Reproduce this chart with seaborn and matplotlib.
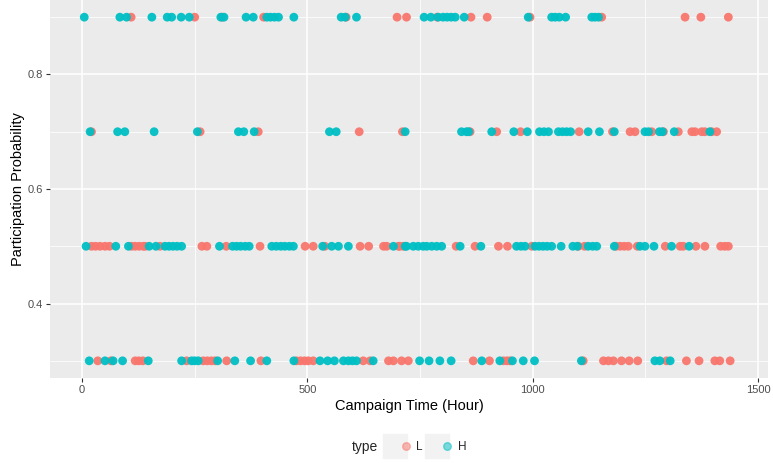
import matplotlib
matplotlib.use("Agg")
import matplotlib.pyplot as plt
import seaborn as sns
import pandas as pd
from matplotlib.lines import Line2D
from matplotlib.legend_handler import HandlerTuple

# campaign hours at which users joined, per participation probability level
l_09 = [109, 250, 311, 403, 586, 699, 720, 788, 863, 899, 994, 1153, 1338, 1373, 1434]
h_09 = [5, 84, 99, 155, 189, 199, 220, 238, 308, 315, 364, 380, 410, 418, 427, 436,
        470, 575, 584, 609, 759, 774, 790, 801, 810, 819, 828, 848, 990, 1042, 1050,
        1059, 1073, 1131, 1138, 1146]

l_07 = [21, 262, 391, 615, 711, 861, 920, 973, 1103, 1177, 1216, 1227, 1264, 1290,
        1323, 1353, 1360, 1375, 1382, 1397, 1408]
h_07 = [18, 79, 95, 160, 256, 347, 359, 382, 549, 564, 717, 842, 853, 858, 909, 958,
        988, 1015, 1025, 1035, 1057, 1066, 1075, 1084, 1123, 1148, 1181, 1249, 1257,
        1281, 1288, 1314, 1393]

l_05 = [21, 30, 40, 51, 61, 110, 118, 127, 136, 140, 173, 266, 277, 320, 395, 495,
        513, 539, 617, 636, 669, 676, 702, 705, 713, 830, 872, 924, 944, 998, 1101,
        1115, 1185, 1194, 1203, 1212, 1232, 1294, 1327, 1334, 1362, 1382, 1417, 1426,
        1434]
h_05 = [9, 75, 103, 149, 164, 184, 193, 202, 211, 221, 305, 334, 343, 352, 362, 371,
        421, 431, 441, 450, 460, 469, 534, 554, 569, 591, 691, 717, 720, 735, 746, 757,
        765, 776, 787, 798, 839, 885, 964, 974, 983, 1005, 1014, 1023, 1032, 1042,
        1063, 1089, 1099, 1123, 1133, 1142, 1181, 1238, 1249, 1269, 1308, 1347]

l_03 = [35, 64, 118, 126, 135, 232, 269, 278, 287, 295, 321, 397, 476, 485, 494, 502,
        513, 624, 639, 680, 691, 709, 724, 868, 904, 935, 943, 950, 1112, 1157, 1168,
        1179, 1197, 1214, 1233, 1297, 1341, 1369, 1404, 1415, 1438]
h_03 = [16, 51, 69, 90, 147, 221, 243, 250, 258, 301, 339, 374, 410, 470, 528, 545,
        560, 580, 591, 600, 609, 646, 749, 770, 794, 819, 887, 927, 955, 979, 1004,
        1108, 1271, 1282, 1305]

levels = [0.9, 0.7, 0.5, 0.3]
l_rows = [l_09, l_07, l_05, l_03]
h_rows = [h_09, h_07, h_05, h_03]

records = []
for p, hours in zip(levels, l_rows):
    records += [(t, p, 'L') for t in hours]
for p, hours in zip(levels, h_rows):
    records += [(t, p, 'H') for t in hours]
df = pd.DataFrame(records, columns=['hour', 'prob', 'type'])

palette = {'L': '#F8766D', 'H': '#00BFC4'}

sns.set_theme(style="darkgrid")
plt.rcParams['font.family'] = ['Liberation Sans', 'DejaVu Sans']

fig = plt.figure(figsize=(7.73, 4.63), dpi=100)
ax = fig.add_axes([50 / 773, 85 / 463, 718 / 773, 378 / 463])
ax.set_facecolor('#EBEBEB')

sns.scatterplot(data=df, x='hour', y='prob', hue='type', palette=palette,
                s=40, linewidth=0, alpha=0.95, legend=False, ax=ax)

ax.set_xlim(-71, 1522)
ax.set_ylim(0.27, 0.93)
ax.set_xticks([0, 500, 1000, 1500])
ax.set_xticks([250, 750, 1250], minor=True)
ax.set_yticks([0.4, 0.6, 0.8])
ax.set_yticks([0.3, 0.5, 0.7, 0.9], minor=True)
ax.set_yticklabels(['0.4', '0.6', '0.8'])
ax.grid(which='major', color='white', linewidth=1.1)
ax.grid(which='minor', color='white', linewidth=0.55)
ax.tick_params(which='major', bottom=True, left=True, length=3, width=0.8,
               color='#333333', labelcolor='#4D4D4D', labelsize=8, pad=2)
ax.tick_params(which='minor', length=0)
for s in ax.spines.values():
    s.set_visible(False)

ax.set_xlabel("Campaign Time (Hour)", fontsize=10.5, color='black', labelpad=3)
ax.set_ylabel("Participation Probability", fontsize=10.5, color='black', labelpad=2)

# legend at the bottom, ggplot-like keys with grey background
handles = []
for k in ['L', 'H']:
    bg = Line2D([], [], marker='s', markersize=17, color='#F2F2F2', linestyle='')
    dot = Line2D([], [], marker='o', markersize=5.5, color=palette[k],
                 alpha=0.5, linestyle='')
    handles.append((bg, dot))
fig.legend(handles, ['L', 'H'], handler_map={tuple: HandlerTuple(ndivide=None)},
           loc='center', bbox_to_anchor=(0.555, 0.035), ncol=2, frameon=False,
           fontsize=8.5, handlelength=1.4, handletextpad=0.6, columnspacing=1.0)
fig.text(0.472, 0.035, "type", fontsize=10, ha='center', va='center')

fig.savefig('out.png', dpi=100)
